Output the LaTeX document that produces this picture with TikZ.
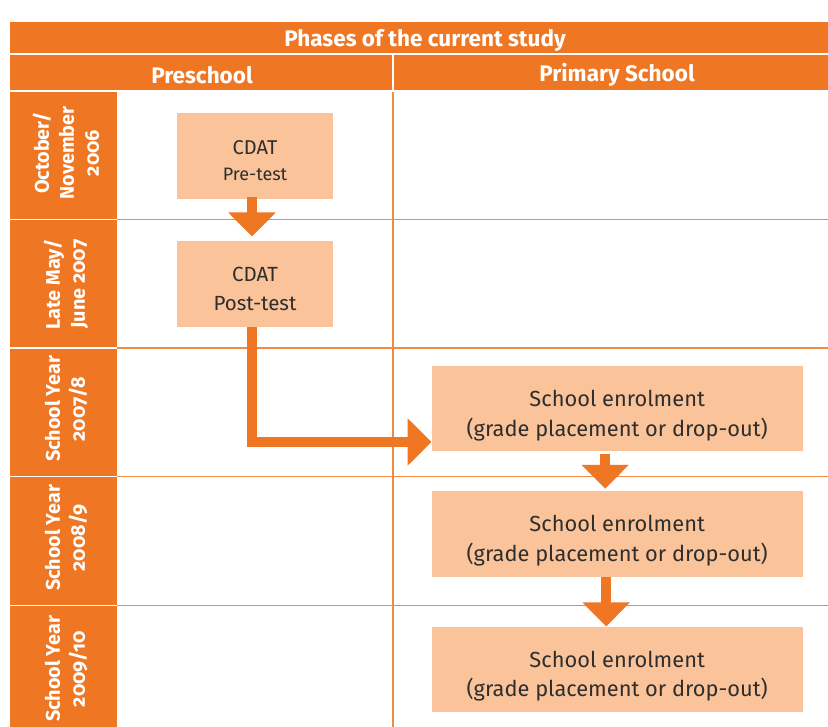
\documentclass[tikz,border=0pt]{standalone}
\usepackage{fontspec}
\setmainfont{Fira Sans}[Numbers=OldStyle]
\usetikzlibrary{arrows.meta}
\definecolor{orng}{HTML}{EF7622}
\definecolor{boxc}{HTML}{FAC399}
\definecolor{gridc}{HTML}{F28A44}
\definecolor{txt}{HTML}{2E2E2E}
\tikzset{
  phasebox/.style={fill=boxc, draw=none, text=txt, align=center, inner sep=0pt},
  boxtext/.style={text=txt, align=center, inner sep=0pt},
  headtext/.style={text=white, font=\fontsize{22.5}{26}\selectfont\bfseries, inner sep=0pt},
  sidetext/.style={text=white, rotate=90, align=center, inner sep=0pt,
    font=\fontsize{19.8}{25}\selectfont\bfseries},
  flow/.style={draw=orng, line width=10.5pt, line join=miter,
    -{Triangle[width=46pt,length=24pt]}},
  gridline/.style={draw=gridc, line width=1.3pt},
  sepline/.style={draw=white, line width=1.5pt}
}
\begin{document}
\begin{tikzpicture}[x=1pt,y=-1pt]
\clip (0,0) rectangle (828,727);
\fill[white] (0,0) rectangle (828,727);
% header bands
\fill[orng] (10,22) rectangle (828,90.5);
\draw[sepline] (10,54) -- (828,54);
\draw[sepline] (393,54) -- (393,90.5);
% left column
\fill[orng] (10,92) rectangle (117,740);
\foreach \yy in {219.3,348,476.7,605.7}{
  \draw[sepline] (10,\yy) -- (117,\yy);
  \draw[gridline] (117,\yy) -- (828,\yy);
}
\draw[gridline] (393,92) -- (393,740);
% header texts
\node[headtext] (title) at (425,40) {Phases of the current study};
\node[headtext] (hpre) at (202,75) {Preschool};
\node[headtext] (hprim) at (617,75) {Primary School};
% side labels
\node[sidetext] (r1) at (66,153) {October/\\November\\2006};
\node[sidetext] (r2) at (66,284) {Late May/\\June 2007};
\node[sidetext] (r3) at (66,409) {School Year\\2007/8};
\node[sidetext] (r4) at (66,538) {School Year\\2008/9};
\node[sidetext] (r5) at (66,669) {School Year\\2009/10};
% boxes
\node[phasebox, minimum width=156pt, minimum height=86pt,
  label={[boxtext, yshift=-5pt, font=\fontsize{20}{26}\selectfont]center:CDAT\\{\fontsize{18}{26}\selectfont Pre-test}}] (pre) at (255,156) {};
\node[phasebox, minimum width=156pt, minimum height=86pt,
  label={[boxtext, yshift=-4.5pt, font=\fontsize{20.5}{29}\selectfont]center:CDAT\\Post-test}] (post) at (255,284) {};
\node[phasebox, minimum width=371pt, minimum height=85pt,
  label={[boxtext, yshift=-7pt, font=\fontsize{21.8}{29.5}\selectfont]center:School enrolment\\(grade placement or drop-out)}] (enr1) at (617.2,408.5) {};
\node[phasebox, minimum width=371pt, minimum height=85.7pt,
  label={[boxtext, yshift=-7pt, font=\fontsize{21.8}{29.5}\selectfont]center:School enrolment\\(grade placement or drop-out)}] (enr2) at (617.2,533.8) {};
\node[phasebox, minimum width=371pt, minimum height=85.3pt,
  label={[boxtext, yshift=-7pt, font=\fontsize{21.8}{29.5}\selectfont]center:School enrolment\\(grade placement or drop-out)}] (enr3) at (617.2,669.3) {};
% arrows
\draw[flow] ([xshift=-3pt,yshift=2pt]pre.south) -- ([xshift=-3pt,yshift=4.3pt]post.north);
\draw[flow] ([xshift=-3pt]post.south) |- ([yshift=-33.5pt]enr1.west);
\draw[flow] ([xshift=-12pt,yshift=-3pt]enr1.south) -- ([xshift=-12pt,yshift=2pt]enr2.north);
\draw[flow] ([xshift=-11pt]enr2.south) -- ([xshift=-11pt]enr3.north);
\end{tikzpicture}
\end{document}
